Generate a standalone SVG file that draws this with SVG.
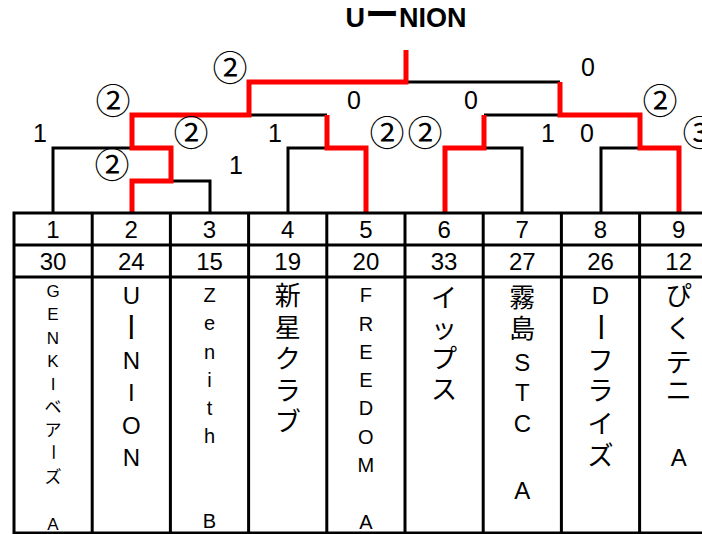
<svg xmlns="http://www.w3.org/2000/svg" width="702" height="534" viewBox="0 0 702 534">
<style>
.bk{fill:none;stroke:#000;stroke-width:3;stroke-linejoin:miter}
.rd{fill:none;stroke:#ff0000;stroke-width:5;stroke-linejoin:miter}
.grid{fill:none;stroke:#000;stroke-width:3}
.t{font-family:"Liberation Sans","Noto Sans CJK JP",sans-serif;fill:#000;text-anchor:middle}
.sc{font-family:"Liberation Sans",sans-serif;font-size:25px;fill:#000;text-anchor:middle}
.ci{font-family:"Noto Sans CJK JP",sans-serif;font-size:35px;fill:#000;text-anchor:middle}
.num{font-family:"Liberation Sans",sans-serif;font-size:24px;fill:#000;text-anchor:middle}
.jp{font-family:"Noto Sans CJK JP",sans-serif;fill:#000;text-anchor:middle}
</style>
<rect width="702" height="534" fill="#fff"/>
<text x="406" y="27" style="font-family:'Liberation Sans','Noto Sans CJK JP',sans-serif;font-weight:bold;font-size:27px;text-anchor:middle">U<tspan style="font-size:34px">ー</tspan>NION</text>
<g id="connectors">
<path class="bk" d="M53 213V148H132"/>
<path class="bk" d="M210 213V181H171"/>
<path class="bk" d="M288 213V148H327"/>
<path class="bk" d="M522 213V148H484"/>
<path class="bk" d="M601 213V148H640"/>
<path class="bk" d="M249 115H327"/>
<path class="bk" d="M484 115H560"/>
<path class="bk" d="M406 82H560"/>
<path class="rd" d="M132 213V181H171V148H132V115H249V82H406V50"/>
<path class="rd" d="M366 213V148H327V115"/>
<path class="rd" d="M445 213V148H484V115"/>
<path class="rd" d="M679 213V148H640V115H560V82"/>
</g>
<g id="scores">
<text class="ci" x="230" y="80.5">②</text>
<text class="ci" x="113" y="113.5">②</text>
<text class="sc" x="40" y="142">1</text>
<text class="ci" x="191" y="146">②</text>
<text class="sc" x="275" y="142">1</text>
<text class="ci" x="112" y="178">②</text>
<text class="sc" x="236" y="174">1</text>
<text class="sc" x="354" y="109">0</text>
<text class="sc" x="588" y="76">0</text>
<text class="sc" x="471" y="109">0</text>
<text class="ci" x="660" y="113.5">②</text>
<text class="ci" x="387" y="146">②</text>
<text class="ci" x="425" y="146">②</text>
<text class="sc" x="548" y="142">1</text>
<text class="sc" x="587" y="142">0</text>
<text class="ci" x="700" y="146">③</text>
</g>
<g id="table">
<rect class="grid" x="14" y="213" width="704" height="320"/>
<path class="grid" d="M14 245H718M14 277H718M92.2 213V534M170.4 213V534M248.6 213V534M326.8 213V534M405 213V534M483.2 213V534M561.4 213V534M639.6 213V534"/>
</g>
<g id="team-1">
<text class="num" x="53" y="238">1</text>
<text class="num" x="53" y="270">30</text>
<text class="t" style="font-size:17px"><tspan x="53" y="297">G</tspan><tspan x="53" y="320.3">E</tspan><tspan x="53" y="343.6">N</tspan><tspan x="53" y="366.9">K</tspan><tspan x="53" y="390.2">I</tspan><tspan x="53" y="413">ベ</tspan><tspan x="53" y="436.3">ア</tspan></text>
<text class="jp" style="font-size:17px" x="53" y="458" transform="rotate(90 53 452)">ー</text>
<text class="t" style="font-size:17px"><tspan x="53" y="483">ズ</tspan><tspan x="53" y="530">A</tspan></text>
</g>
<g id="team-2">
<text class="num" x="131.3" y="238">2</text>
<text class="num" x="131.3" y="270">24</text>
<text class="t" style="font-size:24px"><tspan x="131.3" y="303.5">U</tspan></text>
<text class="jp" style="font-size:30px" x="131.3" y="338" transform="rotate(90 131.3 327)">ー</text>
<text class="t" style="font-size:24px"><tspan x="131.3" y="368.5">N</tspan><tspan x="131.3" y="401">I</tspan><tspan x="131.3" y="433.5">O</tspan><tspan x="131.3" y="466">N</tspan></text>
</g>
<g id="team-3">
<text class="num" x="209.5" y="238">3</text>
<text class="num" x="209.5" y="270">15</text>
<text class="t" style="font-size:20px"><tspan x="209.5" y="302.2">Z</tspan><tspan x="209.5" y="330.4">e</tspan><tspan x="209.5" y="358.6">n</tspan><tspan x="209.5" y="386.8">i</tspan><tspan x="209.5" y="415">t</tspan><tspan x="209.5" y="443.2">h</tspan><tspan x="209.5" y="528">B</tspan></text>
</g>
<g id="team-4">
<text class="num" x="287.7" y="238">4</text>
<text class="num" x="287.7" y="270">19</text>
<text class="jp" style="font-size:26px"><tspan x="287.7" y="305">新</tspan><tspan x="287.7" y="337">星</tspan><tspan x="287.7" y="368">ク</tspan><tspan x="287.7" y="400">ラ</tspan><tspan x="287.7" y="431">ブ</tspan></text>
</g>
<g id="team-5">
<text class="num" x="365.9" y="238">5</text>
<text class="num" x="365.9" y="270">20</text>
<text class="t" style="font-size:20px"><tspan x="365.9" y="302.2">F</tspan><tspan x="365.9" y="330.5">R</tspan><tspan x="365.9" y="358.8">E</tspan><tspan x="365.9" y="387.1">E</tspan><tspan x="365.9" y="415.4">D</tspan><tspan x="365.9" y="443.7">O</tspan><tspan x="365.9" y="472">M</tspan><tspan x="365.9" y="528.6">A</tspan></text>
</g>
<g id="team-6">
<text class="num" x="444.1" y="238">6</text>
<text class="num" x="444.1" y="270">33</text>
<text class="jp" style="font-size:26px"><tspan x="444.1" y="307">イ</tspan><tspan x="444.1" y="337.5">ッ</tspan><tspan x="444.1" y="368">プ</tspan><tspan x="444.1" y="398.5">ス</tspan></text>
</g>
<g id="team-7">
<text class="num" x="522.3" y="238">7</text>
<text class="num" x="522.3" y="270">27</text>
<text class="jp" style="font-size:26px"><tspan x="522.3" y="307">霧</tspan><tspan x="522.3" y="338">島</tspan></text>
<text class="t" style="font-size:24px"><tspan x="522.3" y="370.5">S</tspan><tspan x="522.3" y="400.5">T</tspan><tspan x="522.3" y="431.5">C</tspan><tspan x="522.3" y="498.5">A</tspan></text>
</g>
<g id="team-8">
<text class="num" x="600.5" y="238">8</text>
<text class="num" x="600.5" y="270">26</text>
<text class="t" style="font-size:24px"><tspan x="600.5" y="303.5">D</tspan></text>
<text class="jp" style="font-size:30px" x="600.5" y="338" transform="rotate(90 600.5 327)">ー</text>
<text class="jp" style="font-size:26px"><tspan x="600.5" y="370">フ</tspan><tspan x="600.5" y="400">ラ</tspan><tspan x="600.5" y="433">イ</tspan><tspan x="600.5" y="465">ズ</tspan></text>
</g>
<g id="team-9">
<text class="num" x="678.7" y="238">9</text>
<text class="num" x="678.7" y="270">12</text>
<text class="jp" style="font-size:26px"><tspan x="678.7" y="305">ぴ</tspan><tspan x="678.7" y="338">く</tspan><tspan x="678.7" y="372">テ</tspan><tspan x="678.7" y="400">ニ</tspan></text>
<text class="t" style="font-size:24px"><tspan x="678.7" y="465.5">A</tspan></text>
</g>
</svg>
